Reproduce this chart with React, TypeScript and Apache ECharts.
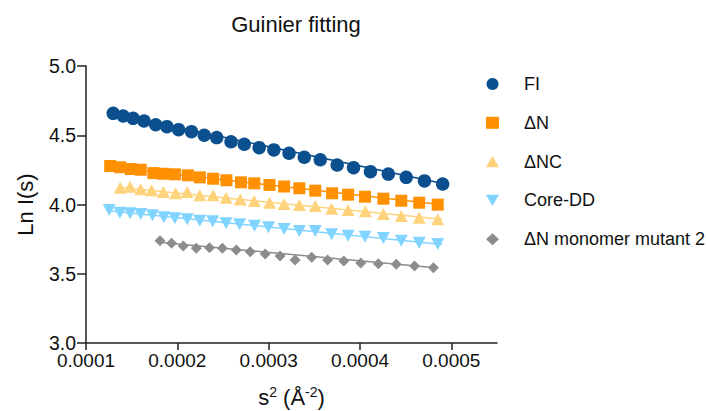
import React, { useEffect, useRef } from "react";
import * as echarts from "echarts";

const seriesNames = ["FI", "ΔN", "ΔNC", "Core-DD", "ΔN monomer mutant 2"];
const colors = ["#0b4f8f", "#ff9100", "#ffd27c", "#80d4ff", "#8c8c8c"];

const fiX = [0.0001298, 0.0001407, 0.0001516, 0.0001635, 0.0001763, 0.0001886, 0.0002014, 0.0002155, 0.0002294, 0.0002431, 0.0002588, 0.0002733, 0.0002896, 0.0003057, 0.0003223, 0.000339, 0.0003565, 0.000375, 0.0003929, 0.0004114, 0.000431, 0.0004506, 0.0004706, 0.0004905];
const fiY = [4.658, 4.639, 4.622, 4.603, 4.576, 4.562, 4.54, 4.526, 4.5, 4.483, 4.453, 4.435, 4.41, 4.394, 4.37, 4.341, 4.323, 4.285, 4.266, 4.237, 4.22, 4.196, 4.17, 4.148];

const dnX = [0.0001265, 0.0001374, 0.000149, 0.0001599, 0.0001738, 0.0001847, 0.0001973, 0.0002115, 0.0002246, 0.0002392, 0.0002537, 0.0002697, 0.0002842, 0.0003009, 0.0003169, 0.0003336, 0.000351, 0.0003695, 0.000387, 0.0004055, 0.0004256, 0.0004452, 0.0004648, 0.0004851];
const dnY = [4.278, 4.269, 4.256, 4.251, 4.227, 4.222, 4.218, 4.211, 4.196, 4.186, 4.175, 4.16, 4.153, 4.141, 4.13, 4.117, 4.1, 4.081, 4.071, 4.056, 4.042, 4.027, 4.013, 3.999];

const dncX = [0.0001374, 0.0001483, 0.0001599, 0.0001719, 0.0001847, 0.0001981, 0.0002108, 0.0002246, 0.0002392, 0.0002534, 0.0002689, 0.0002842, 0.0003009, 0.0003169, 0.0003336, 0.000351, 0.0003689, 0.000387, 0.0004059, 0.0004256, 0.0004452, 0.0004648, 0.0004851];
const dncY = [4.121, 4.129, 4.11, 4.103, 4.09, 4.081, 4.09, 4.066, 4.066, 4.049, 4.037, 4.025, 4.013, 4.003, 3.996, 3.989, 3.97, 3.96, 3.951, 3.931, 3.917, 3.905, 3.893];

const coreX = [0.0001254, 0.0001371, 0.0001483, 0.0001599, 0.0001727, 0.0001853, 0.0001973, 0.0002108, 0.0002246, 0.0002387, 0.0002534, 0.0002682, 0.0002845, 0.0002998, 0.0003169, 0.0003336, 0.000351, 0.0003689, 0.000387, 0.0004055, 0.0004256, 0.0004452, 0.0004648, 0.0004851];
const coreY = [3.96, 3.941, 3.936, 3.931, 3.922, 3.908, 3.9, 3.893, 3.883, 3.879, 3.864, 3.857, 3.847, 3.835, 3.823, 3.809, 3.809, 3.785, 3.775, 3.768, 3.758, 3.739, 3.724, 3.715];

const monoX = [0.000181, 0.0001937, 0.0002065, 0.0002207, 0.0002352, 0.0002493, 0.0002646, 0.0002798, 0.0002962, 0.0003125, 0.0003289, 0.0003471, 0.0003645, 0.0003823, 0.0004008, 0.0004201, 0.0004397, 0.0004597, 0.0004804];
const monoY = [3.739, 3.72, 3.7, 3.684, 3.688, 3.684, 3.671, 3.659, 3.643, 3.628, 3.599, 3.619, 3.599, 3.592, 3.578, 3.573, 3.569, 3.556, 3.544];

// Fit line endpoints: [x0, y0, x1, y1]
const fitFI = [0.000128, 4.657, 0.000496, 4.144];
const fitDN = [0.000125, 4.272, 0.00049, 3.999];
const fitDNC = [0.000136, 4.124, 0.00049, 3.893];
const fitCore = [0.000124, 3.955, 0.00049, 3.712];
const fitMono = [0.00018, 3.728, 0.000485, 3.541];

const xTicks = [0.0001, 0.0002, 0.0003, 0.0004, 0.0005];
const yTicks = [3.0, 3.5, 4.0, 4.5, 5.0];

const FONT = "Liberation Sans, Arial, Helvetica, sans-serif";

const symbols = [
  "circle",
  "rect",
  "path://M1,0 L2,1.732 L0,1.732 Z",
  "path://M0,0 L2,0 L1,1.732 Z",
  "diamond",
];
const symbolSizes = [13.5, 12, [13, 12], [13, 12], 11];

export default function App() {
  const ref = useRef<HTMLDivElement>(null);
  useEffect(() => {
    if (!ref.current) return;
    document.body.style.margin = "0";
    const chart = echarts.init(ref.current, undefined, { renderer: "svg" });
    const xs = [fiX, dnX, dncX, coreX, monoX];
    const ys = [fiY, dnY, dncY, coreY, monoY];
    const fits = [fitFI, fitDN, fitDNC, fitCore, fitMono];
    const series: any[] = [];
    fits.forEach((f, i) => {
      series.push({
        type: "line",
        name: seriesNames[i] + " fit",
        data: [
          [f[0], f[1]],
          [f[2], f[3]],
        ],
        showSymbol: false,
        silent: true,
        lineStyle: { color: colors[i], width: 1.5 },
        z: 1,
      });
    });
    seriesNames.forEach((n, i) => {
      series.push({
        type: "scatter",
        name: n,
        data: xs[i].map((x, k) => [x, ys[i][k]]),
        symbol: symbols[i],
        symbolSize: symbolSizes[i],
        itemStyle: { color: colors[i], opacity: 1 },
        z: 2 + i,
      });
    });
    chart.setOption({
      animation: false,
      title: {
        text: "Guinier fitting",
        left: 291,
        top: 8,
        textAlign: "center",
        textStyle: { fontFamily: FONT, fontSize: 22, fontWeight: "normal", color: "#111" },
      },
      grid: { left: 86, right: 209, top: 66, bottom: 68, containLabel: false, outerBoundsMode: "none" },
      legend: {
        orient: "vertical",
        left: 481,
        top: 70,
        itemWidth: 13,
        itemHeight: 12,
        itemGap: 20.8,
        data: seriesNames.map((n, i) => ({
          name: n,
          icon: symbols[i],
          itemStyle: { color: colors[i] },
        })),
        textStyle: { fontFamily: FONT, fontSize: 18, color: "#111", padding: [0, 0, 0, 20] },
        selectedMode: false,
      },
      xAxis: {
        type: "value",
        min: 0.0001,
        max: 0.00055,
        interval: 0.0001,
        name: "s{sup|2} (Å{sup|-2})",
        nameLocation: "middle",
        nameGap: 42,
        nameTextStyle: {
          fontFamily: FONT,
          fontSize: 22,
          color: "#111",
          rich: { sup: { fontFamily: FONT, fontSize: 14, color: "#111", padding: [0, 0, 10, 0] } },
        },
        splitLine: { show: false },
        axisLine: { show: true, lineStyle: { color: "#222", width: 1.5 } },
        axisTick: { show: true, length: 7, customValues: xTicks, lineStyle: { color: "#222", width: 1.5 } },
        axisLabel: {
          customValues: xTicks,
          formatter: (v: number) => v.toFixed(4),
          fontFamily: FONT,
          fontSize: 19,
          color: "#111",
          margin: 8,
        },
      },
      yAxis: {
        type: "value",
        min: 3,
        max: 5,
        interval: 0.5,
        name: "Ln I(s)",
        nameLocation: "middle",
        nameGap: 50,
        nameTextStyle: { fontFamily: FONT, fontSize: 22, color: "#111" },
        splitLine: { show: false },
        axisLine: { show: true, lineStyle: { color: "#222", width: 1.5 } },
        axisTick: { show: true, length: 9, lineStyle: { color: "#222", width: 1.5 } },
        axisLabel: {
          formatter: (v: number) => v.toFixed(1),
          fontFamily: FONT,
          fontSize: 19.5,
          color: "#111",
          margin: 10,
        },
      },
      series,
    });
    return () => chart.dispose();
  }, []);
  return <div ref={ref} style={{ width: 706, height: 411 }} />;
}
